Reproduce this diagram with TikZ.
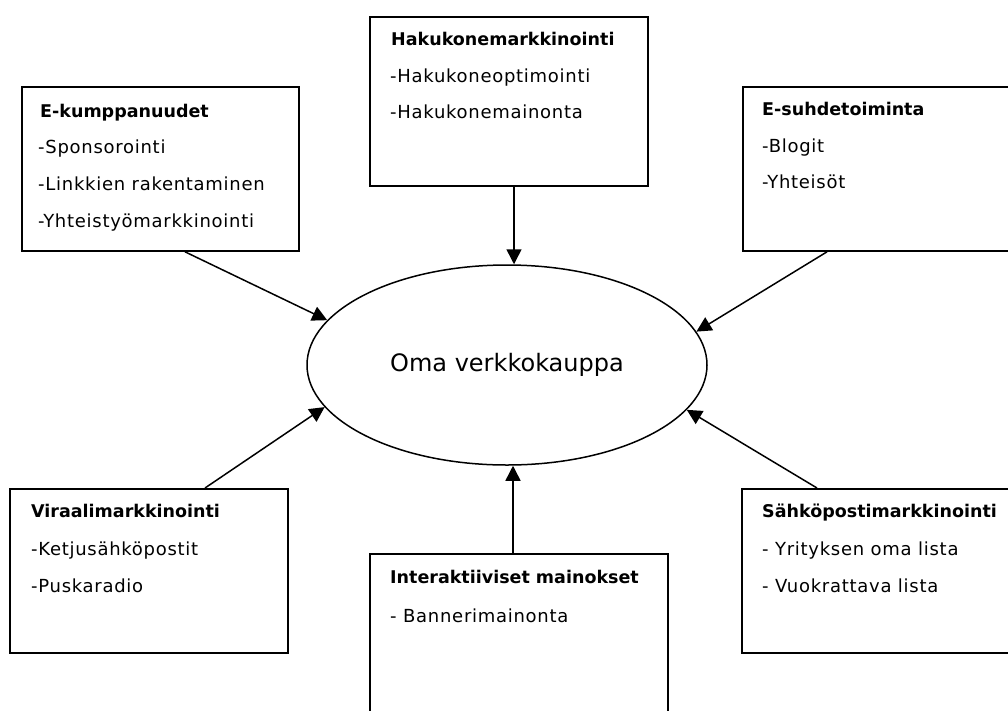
\documentclass[tikz,border=0pt]{standalone}
\usepackage{fontspec}
\setmainfont{DejaVu Sans}
\newfontfamily\itemfont[LetterSpace=4]{DejaVu Sans}
\usetikzlibrary{arrows.meta,shapes.geometric}
\begin{document}
\begin{tikzpicture}[x=1pt,y=-1pt,
  box/.style={draw, line width=1.8pt, inner sep=0pt, anchor=north west},
  ttl/.style={anchor=base west, inner sep=0pt, font=\bfseries\fontsize{17.5}{20}\selectfont},
  itm/.style={anchor=base west, inner sep=0pt, font=\itemfont\fontsize{18}{20}\selectfont},
  arr/.style={line width=1.5pt, -{Triangle[length=15pt,width=15pt]}}]
\clip (0,0) rectangle (1008,710);
\fill[white] (0,0) rectangle (1008,710);
% boxes
\node[box, minimum width=277pt, minimum height=164pt] (ek) at (21,86) {};
\node[box, minimum width=278pt, minimum height=169pt] (hk) at (369,16) {};
\node[box, minimum width=300pt, minimum height=164pt] (es) at (742,86) {};
\node[box, minimum width=278pt, minimum height=164pt] (vi) at (9,488) {};
\node[box, minimum width=298pt, minimum height=200pt] (ia) at (369,553) {};
\node[box, minimum width=300pt, minimum height=164pt] (sp) at (741,488) {};
% texts
\node[ttl] (ekt) at (40,117) {E-kumppanuudet};
\node[itm] (ek1) at (38,153) {-Sponsorointi};
\node[itm] (ek2) at (38,190) {-Linkkien rakentaminen};
\node[itm] (ek3) at (38,227) {-Yhteistyömarkkinointi};
\node[ttl] (hkt) at (391,45) {Hakukonemarkkinointi};
\node[itm] (hk1) at (390,82) {-Hakukoneoptimointi};
\node[itm] (hk2) at (390,118) {-Hakukonemainonta};
\node[ttl] (est) at (762,115) {E-suhdetoiminta};
\node[itm] (es1) at (762,152) {-Blogit};
\node[itm] (es2) at (762,188) {-Yhteisöt};
\node[ttl] (vit) at (31,517) {Viraalimarkkinointi};
\node[itm] (vi1) at (31,555) {-Ketjusähköpostit};
\node[itm] (vi2) at (31,592) {-Puskaradio};
\node[ttl] (iat) at (390,583) {Interaktiiviset mainokset};
\node[itm] (ia1) at (390,622) {- Bannerimainonta};
\node[ttl] (spt) at (762,517) {Sähköpostimarkkinointi};
\node[itm] (sp1) at (762,555) {- Yrityksen oma lista};
\node[itm] (sp2) at (762,592) {- Vuokrattava lista};
% center
\node[draw, ellipse, line width=1.5pt, inner sep=0pt, minimum width=400pt, minimum height=200pt,
  font=\fontsize{24}{28}\selectfont] (om) at (507,365) {Oma verkkokauppa};
% connectors
\coordinate (hkout) at ([xshift=145pt]hk.south west);
\coordinate (iaout) at ([xshift=144pt]ia.north west);
\draw[arr] (hkout) -- (hkout |- om.north);
\draw[arr] (iaout) -- (iaout |- om.south);
\draw[arr] ([xshift=164pt]ek.south west) -- (om.166.5);
\draw[arr] ([xshift=85pt]es.south west) -- (om.10.7);
\draw[arr] ([xshift=196pt]vi.north west) -- (om.193.1);
\draw[arr] ([xshift=76pt]sp.north west) -- (om.346.4);
\end{tikzpicture}
\end{document}
